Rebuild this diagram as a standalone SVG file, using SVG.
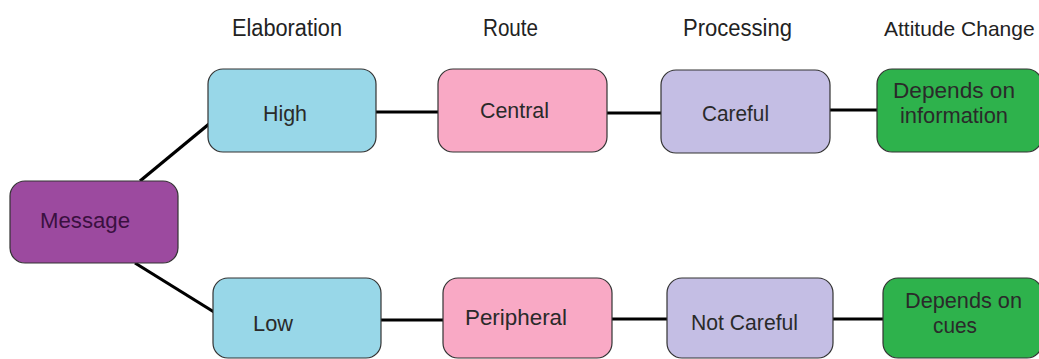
<svg xmlns="http://www.w3.org/2000/svg" width="1039" height="359" viewBox="0 0 1039 359">
<style>
.box{stroke:#333;stroke-width:1.2}
.hdr{font-family:"Liberation Sans",Arial,sans-serif;font-size:23px;fill:#222}
.t{font-family:"Liberation Sans",Arial,sans-serif;font-size:22px;fill:#2a2a2a}
.blue{fill:#98d7e8}
.pink{fill:#f9a9c5}
.lav{fill:#c4bee4}
.green{fill:#2eb24c}
.purple{fill:#9c4a9f}
.con line{stroke:#000;stroke-width:3.2}
</style>
<rect width="1039" height="359" fill="#fff"/>
<g id="headers">
<text class="hdr" x="232" y="36" textLength="110" lengthAdjust="spacingAndGlyphs">Elaboration</text>
<text class="hdr" x="483" y="36" textLength="55" lengthAdjust="spacingAndGlyphs">Route</text>
<text class="hdr" x="683" y="36" textLength="109" lengthAdjust="spacingAndGlyphs">Processing</text>
<text class="hdr" x="884" y="36" style="font-size:21px">Attitude Change</text>
</g>
<g id="connectors" class="con">
<line x1="140" y1="181" x2="209" y2="124"/>
<line x1="135" y1="263" x2="214" y2="312"/>
<line x1="376" y1="112" x2="438" y2="112"/>
<line x1="607" y1="113" x2="661" y2="113"/>
<line x1="830" y1="110" x2="877" y2="110"/>
<line x1="381" y1="320" x2="443" y2="320"/>
<line x1="612" y1="319" x2="667" y2="319"/>
<line x1="833" y1="319" x2="883" y2="319"/>
</g>
<g id="message">
<rect class="box purple" x="10" y="181" width="168" height="82" rx="15"/>
<text class="t" x="40" y="228" textLength="90" lengthAdjust="spacingAndGlyphs" style="fill:#3a1040">Message</text>
</g>
<g id="high">
<rect class="box blue" x="208" y="69" width="168" height="83" rx="15"/>
<text class="t" x="263" y="121" textLength="44" lengthAdjust="spacingAndGlyphs">High</text>
</g>
<g id="central">
<rect class="box pink" x="438" y="69" width="169" height="83" rx="15"/>
<text class="t" x="480" y="118" textLength="69" lengthAdjust="spacingAndGlyphs">Central</text>
</g>
<g id="careful">
<rect class="box lav" x="661" y="70" width="169" height="83" rx="15"/>
<text class="t" x="702" y="121" textLength="67" lengthAdjust="spacingAndGlyphs">Careful</text>
</g>
<g id="depends-information">
<rect class="box green" x="877" y="69" width="165" height="83" rx="15"/>
<text class="t" x="893" y="98" textLength="122" lengthAdjust="spacingAndGlyphs">Depends on</text>
<text class="t" x="900" y="123" textLength="108" lengthAdjust="spacingAndGlyphs">information</text>
</g>
<g id="low">
<rect class="box blue" x="213" y="278" width="168" height="80" rx="15"/>
<text class="t" x="253" y="331" textLength="40" lengthAdjust="spacingAndGlyphs">Low</text>
</g>
<g id="peripheral">
<rect class="box pink" x="443" y="278" width="169" height="80" rx="15"/>
<text class="t" x="465" y="325" textLength="102" lengthAdjust="spacingAndGlyphs">Peripheral</text>
</g>
<g id="not-careful">
<rect class="box lav" x="667" y="278" width="166" height="80" rx="15"/>
<text class="t" x="691" y="330" textLength="107" lengthAdjust="spacingAndGlyphs">Not Careful</text>
</g>
<g id="depends-cues">
<rect class="box green" x="883" y="278" width="159" height="80" rx="15"/>
<text class="t" x="905" y="308" textLength="117" lengthAdjust="spacingAndGlyphs">Depends on</text>
<text class="t" x="933" y="333" textLength="44" lengthAdjust="spacingAndGlyphs">cues</text>
</g>
</svg>
